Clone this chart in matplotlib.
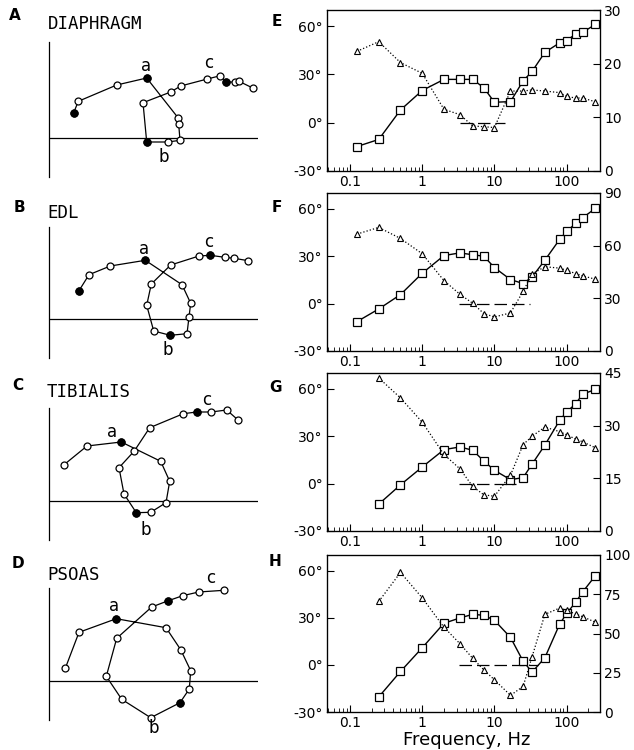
#====================================================================================
#                                  Importacoes
#------------------------------------------------------------------------------------
import numpy as np
import matplotlib
matplotlib.use('Agg')
import matplotlib.pyplot as plt
from matplotlib.ticker import FixedLocator, LogLocator, NullFormatter

#====================================================================================
#                                     Dados
#------------------------------------------------------------------------------------
# Frequencias de estimulo (Hz)
freq = [0.125, 0.25, 0.5, 1, 2, 3.33, 5, 7.14, 10, 16.7, 25, 33.3, 50, 80, 100, 133, 167, 250]

nomes = ['DIAPHRAGM', 'EDL', 'TIBIALIS', 'PSOAS']
letras_esq = ['A', 'B', 'C', 'D']
letras_dir = ['E', 'F', 'G', 'H']

# Diagramas polares (unidades arbitrarias): parte real x, parte imaginaria y
nyq_x_A = [24.7, 29.3, 67.7, 97.7, 129, 129.7, 131, 119, 97.7, 94, 121.7, 131.7, 158.3, 171.3, 177, 186, 190, 203.7]
nyq_y_A = [25.3, 36.7, 53, 60, 20.3, 13.7, -2.3, -4, -4, 35.3, 46, 52, 59, 62.3, 56.3, 55.7, 56.7, 50]
nyq_x_B = [30, 40, 61.3, 96.3, 133, 141.7, 140, 138, 121.3, 104.7, 97.7, 102.3, 121.7, 150, 161.3, 175.7, 185, 199.3]
nyq_y_B = [28.3, 44.3, 53, 58.7, 34.3, 15.7, 2, -14.7, -16.3, -12, 13.7, 35, 54, 63, 63.7, 61.7, 60.7, 58.3]
nyq_x_C = [14.7, 38, 72.3, 111.7, 120.7, 117, 101.7, 87.3, 75, 70, 85.3, 100.7, 134.3, 147.7, 162, 177.7, 188.7]
nyq_y_C = [36, 55, 59, 39.7, 19.7, -1.7, -11.3, -11.7, 7, 33.3, 50, 73.3, 87.3, 89, 89, 91, 81.3]
nyq_x_D = [16.3, 30, 67.3, 117, 131.7, 141.7, 140.3, 131, 101.7, 72.7, 57.3, 67.7, 102.7, 119.3, 133.7, 149.7, 175]
nyq_y_D = [12.7, 48.7, 62.3, 53.3, 31.3, 10.3, -8, -21.7, -36.7, -18.3, 4.7, 42.7, 74, 80.3, 85.3, 89, 90.7]

# Pontos cheios (decadas 0.1, 1, 10, 100 Hz)
cheios = [[0, 3, 8, 14], [0, 3, 8, 14], [2, 7, 13], [2, 7, 13]]

# Rotulos a, b, c (x, y)
rot_abc = [[(97.3, 71.7), (115, -19), (160, 75.3)],
           [(94.7, 70.3), (119, -30.7), (160, 77)],
           [(63, 69), (96.3, -29.3), (157.7, 101.3)],
           [(65, 75.3), (104.7, -47.3), (161.3, 102.7)]]

# Fase (graus) - quadrados
fase_E = [-14.8, -10.4, 7.9, 20, 26.9, 26.9, 26.9, 21.7, 12.7, 13.1, 26, 31.9, 43.7, 49.6, 50.8, 55.2, 56.2, 61]
fase_F = [-11.4, -3.4, 5.7, 19.2, 30.4, 32.1, 30.9, 30, 22.8, 15.2, 12.7, 16.9, 27.5, 40.6, 45.7, 50.7, 54.3, 60.3]
fase_G = [-13, -0.8, 10.5, 21.5, 23.2, 21.1, 14.3, 8.4, 2.5, 3.8, 12.4, 24.4, 40, 45.3, 50.5, 56.6, 59.6]
fase_H = [-20.4, -4.2, 10.9, 26.5, 29.9, 32.2, 31.6, 28.4, 17.5, 2.3, -4.6, 4.6, 25.9, 32.8, 39.8, 46.5, 56.8]

# Magnitude (eixo direito) - triangulos
mag_E = [22.3, 24.1, 20.2, 18.2, 11.5, 10.5, 8.4, 8.25, 8.1, 14.9, 14.9, 15.1, 14.9, 14.6, 13.9, 13.6, 13.6, 12.9]
mag_F = [66.6, 70.4, 64.1, 55.4, 40.1, 32.3, 27.2, 21.3, 19.4, 21.7, 34, 43.9, 48, 47.2, 46, 44.1, 42.8, 40.9]
mag_G = [43.6, 37.9, 31, 21.8, 17.7, 12.7, 10.3, 9.9, 15.9, 24.6, 27, 29.6, 28.3, 27.4, 26.2, 25.4, 23.7]
mag_H = [70.4, 88.9, 72.7, 54, 43.5, 34.2, 26.8, 20.5, 10.6, 16.3, 35.3, 62.2, 66.2, 64.7, 62.4, 60.7, 57.2]

# Escalas do eixo direito
ticks_dir = [[0, 10, 20, 30], [0, 30, 60, 90], [0, 15, 30, 45], [0, 25, 50, 75, 100]]

# Trecho tracejado em 0 graus (Hz)
tracejado = [(3.3, 14), (3.2, 31), (3.2, 20), (3.2, 40)]

nyq_x = [nyq_x_A, nyq_x_B, nyq_x_C, nyq_x_D]
nyq_y = [nyq_y_A, nyq_y_B, nyq_y_C, nyq_y_D]
fases = [fase_E, fase_F, fase_G, fase_H]
mags = [mag_E, mag_F, mag_G, mag_H]

#====================================================================================
#                                  Layout
#------------------------------------------------------------------------------------
W, H = 634., 750.
fig = plt.figure(figsize=(6.34, 7.5), dpi=100)
plt.rcParams['font.family'] = ['DejaVu Sans']

def caixa(l, t, r, b):
    return [l/W, 1 - b/H, (r - l)/W, (b - t)/H]

# topo, linha zero, base (px) dos paineis da esquerda
topo_esq = [42, 227, 408, 588]
zero_esq = [138, 319, 501, 681]
base_esq = [177, 358, 540, 720]
letra_esq_xy = [(15, 16), (19, 207), (18, 385), (18, 563)]
nome_xy = [(48, 24), (47, 213), (47, 392), (47, 575)]

topo_dir = [10, 193, 373, 555]
base_dir = [171, 351, 531, 712]
letra_dir_xy = [(277, 22), (277, 207), (275, 387), (275, 562)]

#====================================================================================
#                          Paineis A-D (diagramas polares)
#------------------------------------------------------------------------------------
for i in range(4):
    ax = fig.add_axes(caixa(49, topo_esq[i], 258, base_esq[i]))
    ax.set_xlim(0, 209)
    ax.set_ylim(-(base_esq[i] - zero_esq[i]), zero_esq[i] - topo_esq[i])
    for s in ['top', 'right', 'bottom']:
        ax.spines[s].set_visible(False)
    ax.spines['left'].set_linewidth(0.9)
    ax.set_xticks([])
    ax.set_yticks([])
    ax.axhline(0, color='k', lw=0.9)

    x = np.array(nyq_x[i])
    y = np.array(nyq_y[i])
    ax.plot(x, y, '-', color='k', lw=0.9, marker='o', ms=5, mfc='white', mec='k',
            mew=0.9, clip_on=False)
    ax.plot(x[cheios[i]], y[cheios[i]], 'o', color='k', ms=5, clip_on=False)

    for lab, (tx, ty) in zip(['a', 'b', 'c'], rot_abc[i]):
        ax.text(tx, ty, lab, fontsize=12, ha='center', va='center')

    fig.text(letra_esq_xy[i][0]/W, 1 - letra_esq_xy[i][1]/H, letras_esq[i],
             fontsize=11, fontweight='bold', ha='center', va='center')
    fig.text(nome_xy[i][0]/W, 1 - nome_xy[i][1]/H, nomes[i], family='DejaVu Sans Mono',
             fontsize=12.5, ha='left', va='center')

#====================================================================================
#                        Paineis E-H (fase e magnitude)
#------------------------------------------------------------------------------------
for i in range(4):
    f = freq if len(fases[i]) == len(freq) else freq[1:]

    ax = fig.add_axes(caixa(327, topo_dir[i], 600, base_dir[i]))
    ax.set_xscale('log')
    ax.set_xlim(0.048, 290)
    ax.set_ylim(-30, 70)
    ax.set_yticks([-30, 0, 30, 60])
    ax.set_yticklabels(['-30°', '0°', '30°', '60°'])
    ax.xaxis.set_major_locator(FixedLocator([0.1, 1, 10, 100]))
    ax.set_xticklabels(['0.1', '1', '10', '100'])
    ax.xaxis.set_minor_locator(LogLocator(base=10, subs=np.arange(2, 10)))
    ax.xaxis.set_minor_formatter(NullFormatter())
    ax.tick_params(direction='in', top=False, right=False, labelsize=10, length=5, pad=3)
    ax.tick_params(which='minor', direction='in', length=3)
    for s in ax.spines.values():
        s.set_linewidth(0.9)

    ax.plot(f, fases[i], 'k-', lw=1, marker='s', ms=5.3, mfc='white', mec='k', mew=0.9, zorder=3)
    ax.plot(list(tracejado[i]), [0, 0], 'k-', lw=0.9, dashes=(10, 4))

    ax2 = ax.twinx()
    ax2.set_ylim(0, ticks_dir[i][-1])
    ax2.set_yticks(ticks_dir[i])
    ax2.tick_params(direction='in', length=5, labelsize=10, pad=3)
    ax2.plot(f, mags[i], 'k:', lw=0.9, marker='^', ms=4, mfc='white', mec='k', mew=0.8,
             clip_on=False)

    fig.text(letra_dir_xy[i][0]/W, 1 - letra_dir_xy[i][1]/H, letras_dir[i],
             fontsize=11, fontweight='bold', ha='center', va='center')

fig.text(467/W, 1 - 740/H, 'Frequency, Hz', fontsize=13, ha='center', va='center')

fig.savefig('out.png', dpi=100)
